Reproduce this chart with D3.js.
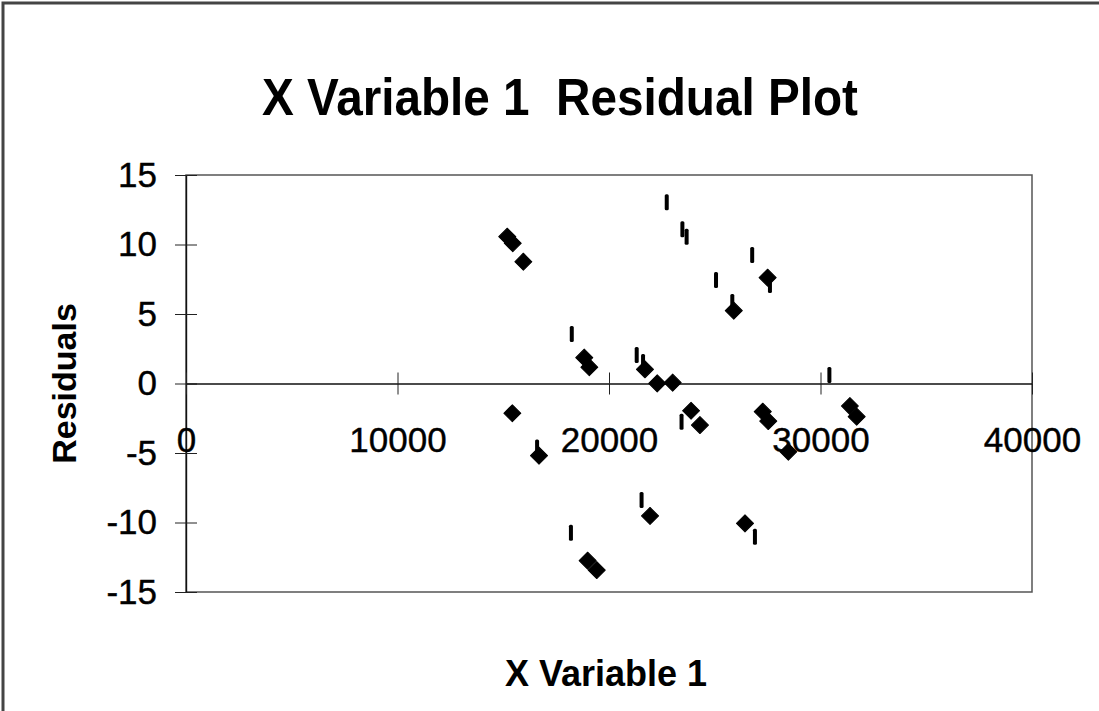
<!DOCTYPE html>
<html>
<head>
<meta charset="utf-8">
<script src="https://cdn.jsdelivr.net/npm/d3@7"></script>
<style>
  body { margin: 0; background: #fff; }
  svg { display: block; font-family: "Liberation Sans", Arial, sans-serif; }
</style>
</head>
<body>
<div id="chart"></div>
<script>
// Residuals plotted as diamonds
var diamondX = [15190, 15450, 15950, 18830, 19070, 21700, 22280, 23010, 27500, 25900,
                15430, 16690, 21940, 18990, 19420, 23880, 24300, 27270, 27530, 28480,
                31390, 31710, 26430];
var diamondY = [10.56, 10.09, 8.76, 1.86, 1.17, 1.02, 0.01, 0.06, 7.61, 5.24,
                -2.14, -5.19, -9.53, -12.75, -13.42, -1.96, -2.99, -2.03, -2.70, -4.91,
                -1.62, -2.39, -10.06];

// the short vertical dash marks
var dashX = [18240, 22730, 23470, 23670, 26770, 25060, 21310, 30420, 23430, 21540,
             18200, 26900, 21610, 16600, 25830, 27610];
var dashY = [3.56, 13.04, 11.09, 10.56, 9.24, 7.45, 2.05, 0.61, -2.75, -8.38,
             -10.73, -11.02, 1.55, -4.6, 5.86, 7.09];

var xTicks = [0, 10000, 20000, 30000, 40000];
var yTicks = [-15, -10, -5, 0, 5, 10, 15];

var svgWidth = 1099;
var svgHeight = 711;

var plot = { left: 186, right: 1032, top: 175, bottom: 592 };

var svg = d3.select("#chart")
  .append("svg")
  .attr("width", svgWidth)
  .attr("height", svgHeight);

// outer chart frame (scan edge)
svg.append("rect")
  .attr("x", 3).attr("y", 3)
  .attr("width", svgWidth + 20).attr("height", svgHeight + 20)
  .attr("fill", "none")
  .attr("stroke", "#444")
  .attr("stroke-width", 3);

var xScale = d3.scaleLinear()
  .domain([0, 40000])
  .range([plot.left, plot.right]);

var yScale = d3.scaleLinear()
  .domain([-15, 15])
  .range([plot.bottom, plot.top]);

// plot area border
svg.append("rect")
  .attr("x", plot.left).attr("y", plot.top)
  .attr("width", plot.right - plot.left)
  .attr("height", plot.bottom - plot.top)
  .attr("fill", "none")
  .attr("stroke", "#555")
  .attr("stroke-width", 1.5);

// plain hyphen for negatives, like the original
var fmt = d => String(d);

// y axis, cross ticks
var leftAxis = d3.axisLeft(yScale).tickValues(yTicks).tickSize(11).tickSizeOuter(0).tickPadding(18)
  .tickFormat(fmt);
var rightTicks = d3.axisRight(yScale).tickValues(yTicks).tickSize(11).tickSizeOuter(0).tickFormat("");

svg.append("g")
  .attr("transform", `translate(${plot.left}, 0)`)
  .call(leftAxis);
svg.append("g")
  .attr("transform", `translate(${plot.left}, 0)`)
  .call(rightTicks);

// x axis sits on y = 0
var bottomAxis = d3.axisBottom(xScale).tickValues(xTicks).tickSize(11).tickSizeOuter(0).tickPadding(33)
  .tickFormat(fmt);
var topTicks = d3.axisTop(xScale).tickValues(xTicks).tickSize(11).tickSizeOuter(0).tickFormat("");

svg.append("g")
  .attr("transform", `translate(0, ${yScale(0)})`)
  .call(bottomAxis);
svg.append("g")
  .attr("transform", `translate(0, ${yScale(0)})`)
  .call(topTicks);

svg.selectAll(".domain").attr("stroke", "#111").attr("stroke-width", 1.2);
svg.selectAll(".tick line").attr("stroke", "#222").attr("stroke-width", 1);
svg.selectAll(".tick text")
  .attr("font-family", "Liberation Sans, Arial, sans-serif")
  .attr("font-size", "35px")
  .attr("fill", "#000")
  .attr("stroke", "#000")
  .attr("stroke-width", 0.4);

// dashes first, diamonds drawn over them
svg.append("g").selectAll("rect")
  .data(dashX.map((d, i) => [d, dashY[i]]))
  .enter()
  .append("rect")
  .attr("x", d => xScale(d[0]) - 2)
  .attr("y", d => yScale(d[1]) - 8)
  .attr("width", 4)
  .attr("height", 16)
  .attr("rx", 1.5)
  .attr("fill", "#000");

var diamond = d3.symbol().type(d3.symbolSquare).size(145);

svg.append("g").selectAll("path")
  .data(diamondX.map((d, i) => [d, diamondY[i]]))
  .enter()
  .append("path")
  .attr("d", diamond)
  .attr("transform", d => `translate(${xScale(d[0])}, ${yScale(d[1])}) rotate(45)`)
  .attr("fill", "#000")
  .attr("stroke", "#000")
  .attr("stroke-width", 1)
  .attr("stroke-linejoin", "round");

// titles
svg.append("text")
  .attr("x", 262)
  .attr("y", 115)
  .attr("textLength", 596)
  .attr("lengthAdjust", "spacingAndGlyphs")
  .attr("font-size", "52px")
  .attr("font-weight", "bold")
  .style("white-space", "pre")
  .text("X Variable 1  Residual Plot");

svg.append("text")
  .attr("x", 606)
  .attr("y", 686)
  .attr("text-anchor", "middle")
  .attr("font-size", "36px")
  .attr("font-weight", "bold")
  .text("X Variable 1");

svg.append("text")
  .attr("transform", `translate(76, ${yScale(0)}) rotate(-90)`)
  .attr("text-anchor", "middle")
  .attr("font-size", "34px")
  .attr("font-weight", "bold")
  .text("Residuals");
</script>
</body>
</html>
